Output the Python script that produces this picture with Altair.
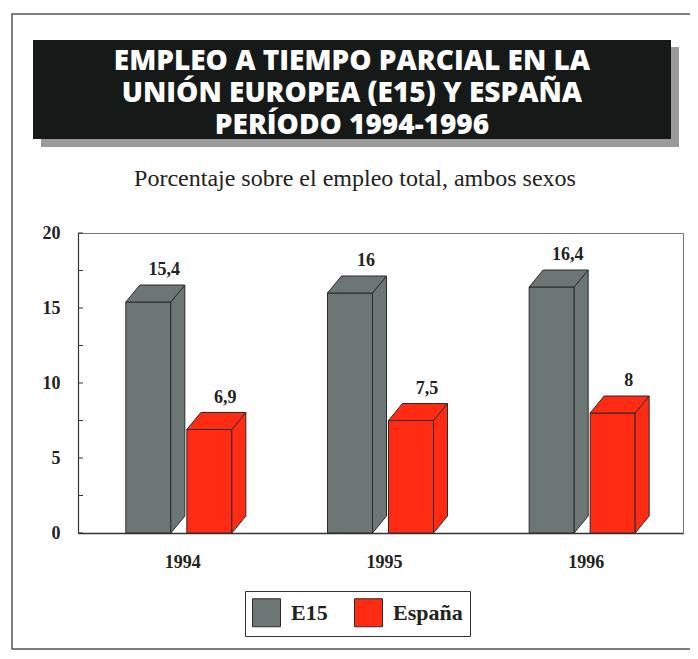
import altair as alt
import pandas as pd

# ---------------- data ----------------
years = ["1994", "1995", "1996"]
series = ["E15", "España"]
e15 = [15.4, 16.0, 16.4]
espana = [6.9, 7.5, 8.0]
e15_labels = ["15,4", "16", "16,4"]
espana_labels = ["6,9", "7,5", "8"]
y_tick_values = [0, 5, 10, 15, 20]
minor_tick_values = [0, 2.5, 5, 7.5, 10, 12.5, 15, 17.5, 20]
title_lines = ["EMPLEO A TIEMPO PARCIAL EN LA", "UNIÓN EUROPEA (E15) Y ESPAÑA", "PERÍODO 1994-1996"]
subtitle = "Porcentaje sobre el empleo total, ambos sexos"

# ---------------- style ----------------
W, H = 605, 300
YMAX = 20
GRAY = "#6c7775"
RED = "#ff2b12"
OUTLINE = "#2b2b2b"
BAR_W, GAP, DEPTH_X, DEPTH_Y = 45, 16, 14, 17
PX = len(years) / W      # data units per pixel (x)
PY = YMAX / H            # data units per pixel (y)
fills = {"E15": GRAY, "España": RED}

# ---------------- geometry tables ----------------
front, side, top = [], [], []
for i, yr in enumerate(years):
    centre = i + 0.5
    for s, (name, vals, labs) in enumerate([("E15", e15, e15_labels), ("España", espana, espana_labels)]):
        v = vals[i]
        xl = centre + (-(2 * BAR_W + GAP) / 2 + s * (BAR_W + GAP)) * PX
        xr = xl + BAR_W * PX
        dx, dy = DEPTH_X * PX, DEPTH_Y * PY
        bar = f"{yr}-{name}"
        front.append(dict(year=yr, series=name, value=v, label=labs[i], xl=xl, xr=xr,
                          lx=(xl + xr) / 2 + dx + 2 * PX, ly=v + dy, fill=fills[name]))
        side += [dict(bar=bar, fill=fills[name], x=xr, lo=0, hi=v),
                 dict(bar=bar, fill=fills[name], x=xr + dx, lo=dy, hi=v + dy)]
        top += [dict(bar=bar, fill=fills[name], x=xl, lo=v, hi=v),
                dict(bar=bar, fill=fills[name], x=xl + dx, lo=v, hi=v + dy),
                dict(bar=bar, fill=fills[name], x=xr, lo=v, hi=v + dy),
                dict(bar=bar, fill=fills[name], x=xr + dx, lo=v + dy, hi=v + dy)]

front_df = pd.DataFrame(front)
side_df = pd.DataFrame(side)
top_df = pd.DataFrame(top)
year_df = pd.DataFrame({"year": years, "xc": [i + 0.5 + 4 * PX for i in range(len(years))]})
tick_df = pd.DataFrame({"t": minor_tick_values})
one = pd.DataFrame({"a": [0]})

xs = alt.Scale(domain=[0, len(years)], nice=False, zero=False)
ys = alt.Scale(domain=[0, YMAX], nice=False)
cs = alt.Scale(domain=series, range=[GRAY, RED])
x_axis = alt.Axis(labels=False, ticks=False, grid=False, title=None, domainColor="#333", domainWidth=1.5)
y_axis = alt.Axis(values=y_tick_values, ticks=False, grid=False, title=None,
                  domainColor="#333", domainWidth=1.2,
                  labelFont="Liberation Serif", labelFontWeight="bold",
                  labelFontSize=18, labelColor="#222", labelPadding=18)

# ---------------- decorations ----------------
frame = alt.Chart(one).mark_rect(filled=False, stroke="#555", strokeWidth=1.5).encode(
    x=alt.value(-66), x2=alt.value(640), y=alt.value(-219), y2=alt.value(416))
shadow = alt.Chart(one).mark_rect(fill="#9a9a9a").encode(
    x=alt.value(-37), x2=alt.value(601), y=alt.value(-186), y2=alt.value(-86))
title_box = alt.Chart(one).mark_rect(fill="#151918").encode(
    x=alt.value(-45), x2=alt.value(593), y=alt.value(-193), y2=alt.value(-94))
title_txt = alt.Chart(one).mark_text(
    text=title_lines, font="Open Sans", fontWeight=800, fontSize=28, color="white",
    lineHeight=32, baseline="middle", align="center").encode(x=alt.value(274), y=alt.value(-171))
sub_txt = alt.Chart(one).mark_text(
    text=subtitle, font="Liberation Serif", fontSize=24, color="#222", align="center",
    baseline="middle").encode(x=alt.value(277), y=alt.value(-54))

# ---------------- plot layers ----------------
fronts = alt.Chart(front_df).mark_rect(stroke=OUTLINE, strokeWidth=1).encode(
    x=alt.X("xl:Q", scale=xs, axis=x_axis), x2="xr:Q",
    y=alt.Y("value:Q", scale=ys, axis=y_axis), y2=alt.datum(0),
    color=alt.Color("series:N", scale=cs, legend=alt.Legend(
        orient="none", legendX=167, legendY=358, direction="horizontal", title=None,
        symbolType="square", symbolSize=784, symbolStrokeColor=OUTLINE, symbolStrokeWidth=1,
        symbolOpacity=1, labelFont="Liberation Serif", labelFontWeight="bold", labelFontSize=22,
        labelColor="#222", labelOffset=10, columnPadding=24, strokeColor="#333",
        padding=7, fillColor="white")))
sides = alt.Chart(side_df).mark_area(stroke=OUTLINE, strokeWidth=1, interpolate="linear").encode(
    x=alt.X("x:Q", scale=xs, axis=x_axis),
    y=alt.Y("lo:Q", scale=ys, stack=None, axis=y_axis), y2="hi:Q",
    detail="bar:N", color=alt.Color("fill:N", scale=None))
tops = alt.Chart(top_df).mark_area(stroke=OUTLINE, strokeWidth=1, interpolate="linear").encode(
    x=alt.X("x:Q", scale=xs, axis=x_axis),
    y=alt.Y("lo:Q", scale=ys, stack=None, axis=y_axis), y2="hi:Q",
    detail="bar:N", color=alt.Color("fill:N", scale=None))
labels = alt.Chart(front_df).mark_text(
    font="Liberation Serif", fontWeight="bold", fontSize=18, color="#222",
    baseline="alphabetic", dy=-10).encode(
    x=alt.X("lx:Q", scale=xs, axis=x_axis), y=alt.Y("ly:Q", scale=ys, axis=y_axis), text="label:N")
year_txt = alt.Chart(year_df).mark_text(
    font="Liberation Serif", fontWeight="bold", fontSize=18, color="#222", baseline="middle").encode(
    x=alt.X("xc:Q", scale=xs, axis=x_axis), y=alt.value(H + 30), text="year:N")
ticks = alt.Chart(tick_df).mark_rule(color="#333", strokeWidth=1).encode(
    y=alt.Y("t:Q", scale=ys, axis=y_axis), x=alt.value(0), x2=alt.value(5))

chart = alt.layer(
    frame, shadow, title_box, title_txt, sub_txt,
    fronts, sides, tops, labels, year_txt, ticks
).properties(
    width=W, height=H,
    padding={"left": 70, "top": 225, "right": 7, "bottom": 118},
    autosize=alt.AutoSizeParams(type="none"),
).configure_view(stroke="#777", strokeWidth=1)

chart.save("out.html", embed_options={"renderer": "svg", "actions": False})
